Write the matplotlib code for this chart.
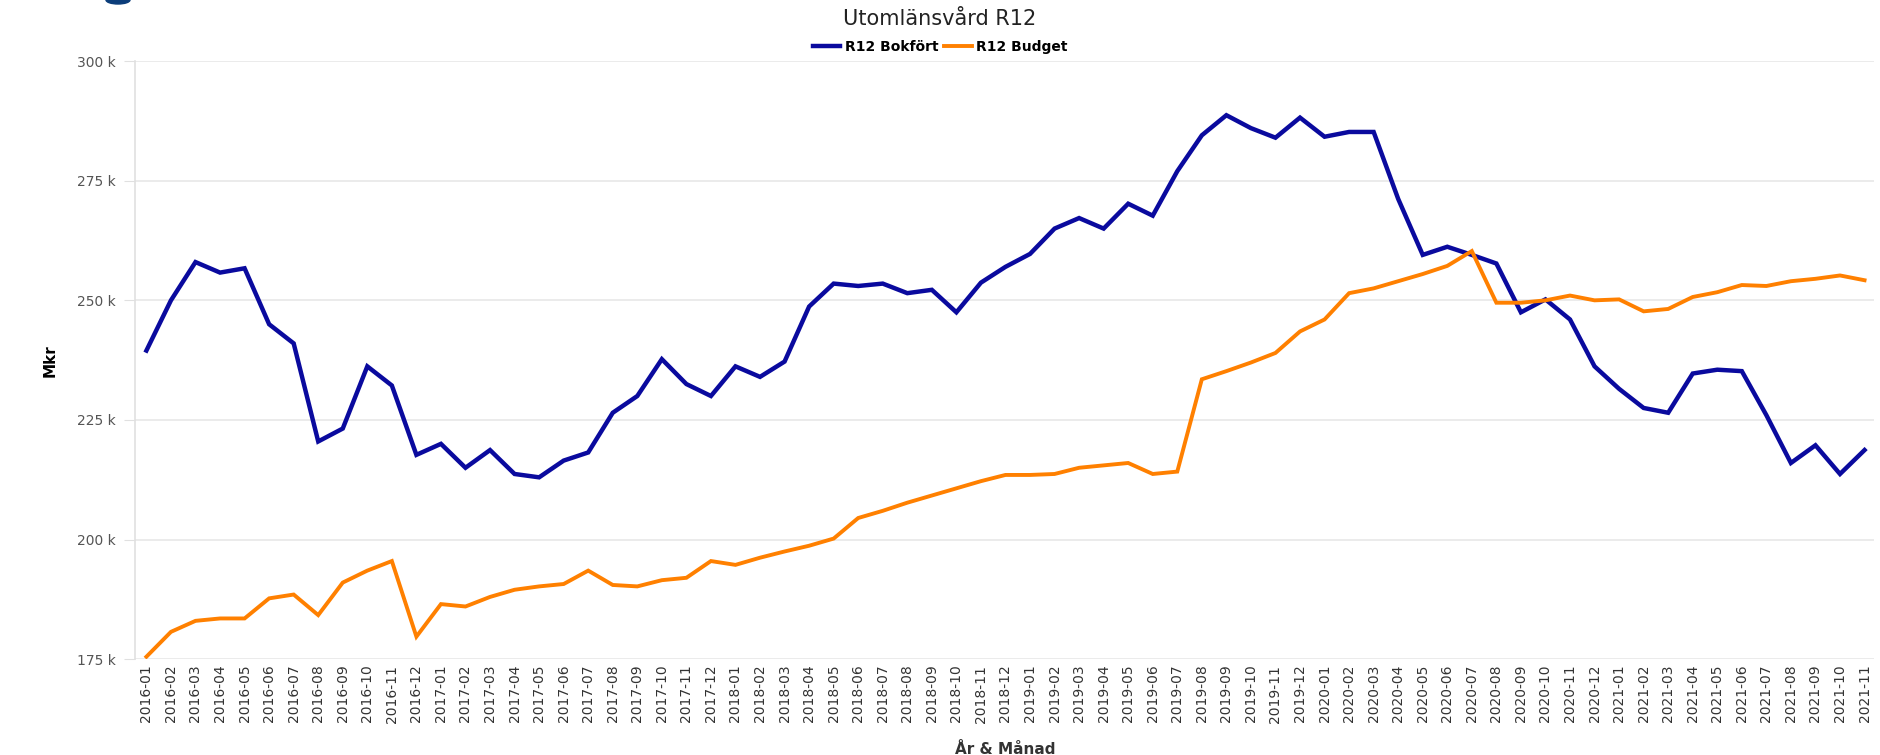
import matplotlib
matplotlib.use("Agg")
import matplotlib.pyplot as plt
from matplotlib.ticker import FuncFormatter
from matplotlib.patches import Ellipse

# months 2016-01 .. 2021-11
months = [f"{y}-{m:02d}" for y in range(2016, 2022) for m in range(1, 13)][:71]

bokfort = [239.5, 250.0, 258.0, 255.8, 256.7, 245.0, 241.0, 220.5, 223.2, 236.2, 232.2, 217.7,
           220.0, 215.0, 218.7, 213.7, 213.0, 216.5, 218.2, 226.5, 230.0, 237.7, 232.5, 230.0,
           236.2, 234.0, 237.2, 248.7, 253.5, 253.0, 253.5, 251.5, 252.2, 247.5, 253.7, 257.0,
           259.7, 265.0, 267.2, 265.0, 270.2, 267.7, 277.0, 284.5, 288.7, 286.0, 284.0, 288.2,
           284.2, 285.2, 285.2, 271.2, 259.5, 261.2, 259.5, 257.7, 247.5, 250.2, 246.0, 236.2,
           231.5, 227.5, 226.5, 234.7, 235.5, 235.2, 226.0, 216.0, 219.7, 213.7, 218.7]

budget = [175.5, 180.7, 183.0, 183.5, 183.5, 187.7, 188.5, 184.2, 191.0, 193.5, 195.5, 179.7,
          186.5, 186.0, 188.0, 189.5, 190.2, 190.7, 193.5, 190.5, 190.2, 191.5, 192.0, 195.5,
          194.7, 196.2, 197.5, 198.7, 200.2, 204.5, 206.0, 207.7, 209.2, 210.7, 212.2, 213.5,
          213.5, 213.7, 215.0, 215.5, 216.0, 213.7, 214.2, 233.5, 235.2, 237.0, 239.0, 243.5,
          246.0, 251.5, 252.5, 254.0, 255.5, 257.2, 260.3, 249.5, 249.5, 250.0, 251.0, 250.0,
          250.2, 247.7, 248.2, 250.7, 251.7, 253.2, 253.0, 254.0, 254.5, 255.2, 254.2]

fig = plt.figure(figsize=(18.8, 7.55), dpi=100)
ax = fig.add_axes([0.072, 0.127, 0.925, 0.792])

x = list(range(len(months)))
ax.plot(x, bokfort, color='#0a0a9e', lw=3.2, label='R12 Bokfört', solid_joinstyle='miter')
ax.plot(x, budget, color='#ff8000', lw=2.8, label='R12 Budget', solid_joinstyle='miter')

ax.set_xlim(-0.45, 70.4)
ax.set_ylim(175, 300)
ax.set_yticks([175, 200, 225, 250, 275, 300])
ax.yaxis.set_major_formatter(FuncFormatter(lambda v, p: f"{int(v)} k"))
ax.set_xticks(x)
ax.set_xticklabels(months, rotation=90, fontsize=10, color='#333333')
ax.tick_params(axis='x', length=0, pad=4)
ax.tick_params(axis='y', length=8, color='#e0e0e0', labelsize=10, labelcolor='#555555', pad=6)

ax.grid(axis='y', color='#e8e8e8', lw=1.2)
ax.set_axisbelow(True)
for s in ['top', 'right', 'bottom']:
    ax.spines[s].set_visible(False)
ax.spines['left'].set_color('#e0e0e0')
ax.spines['left'].set_linewidth(1.2)

ax.set_ylabel('Mkr', fontsize=11, fontweight='bold', labelpad=14)
ax.set_xlabel('År & Månad', fontsize=11, fontweight='bold', labelpad=14, color='#333333')

fig.text(0.5, 0.975, 'Utomlänsvård R12', fontsize=15, ha='center', va='center', color='#222222')
fig.legend(loc='center', bbox_to_anchor=(0.5, 0.938), ncol=2, frameon=False,
           prop={'weight': 'bold', 'size': 10}, handlelength=2.0, handletextpad=0.3,
           columnspacing=0.4)

# cropped navy fragment in the top-left corner
fig.patches.append(Ellipse((118 / 1880, 1.0), 24 / 1880, 8 / 755, transform=fig.transFigure,
                           color='#0b3d7a', zorder=5))

fig.savefig('out.png', dpi=100)
